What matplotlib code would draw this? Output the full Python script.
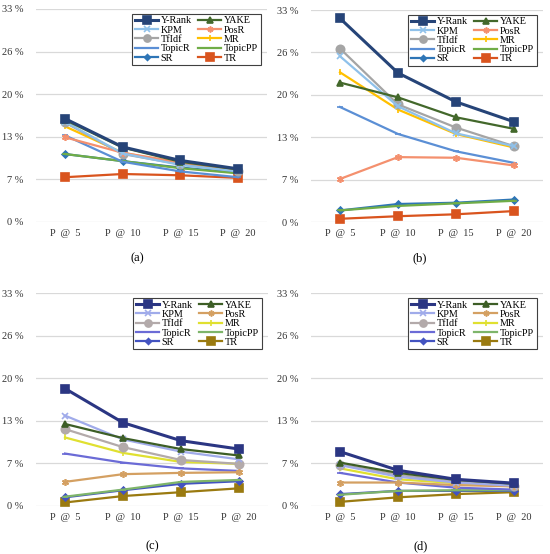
import matplotlib
matplotlib.use('Agg')
import matplotlib.pyplot as plt

# categories and y ticks
CATEGORIES = ['P  @  5', 'P  @  10', 'P  @  15', 'P  @  20']
Y_TICKS = [0, 6.6, 13.2, 19.8, 26.4, 33]
Y_LABELS = ['0 %', '7 %', '13 %', '20 %', '26 %', '33 %']
METHODS = ['Y-Rank', 'YAKE', 'KPM', 'PosR', 'TfIdf', 'MR', 'TopicR', 'TopicPP', 'SR', 'TR']

# values in percent, per panel
PANEL_A = {
    'Y-Rank':  [16.0, 11.6, 9.5, 8.2],
    'YAKE':    [15.8, 11.5, 9.3, 8.1],
    'KPM':     [15.5, 10.6, 8.8, 7.8],
    'PosR':    [13.1, 10.7, 9.2, 8.0],
    'TfIdf':   [15.4, 10.5, 8.9, 7.9],
    'MR':      [14.8, 10.7, 9.0, 7.9],
    'TopicR':  [13.4, 9.3, 7.8, 6.9],
    'TopicPP': [10.5, 9.4, 8.3, 7.5],
    'SR':      [10.5, 9.4, 8.4, 7.6],
    'TR':      [6.9, 7.4, 7.2, 6.8],
}
PANEL_B = {
    'Y-Rank':  [31.7, 23.2, 18.7, 15.6],
    'YAKE':    [21.7, 19.4, 16.3, 14.5],
    'KPM':     [25.8, 18.0, 13.8, 11.8],
    'PosR':    [6.7, 10.1, 10.0, 8.8],
    'TfIdf':   [27.0, 18.3, 14.7, 11.8],
    'MR':      [23.3, 17.5, 13.7, 11.6],
    'TopicR':  [17.9, 13.7, 11.0, 9.2],
    'TopicPP': [1.8, 2.5, 2.9, 3.3],
    'SR':      [1.8, 2.8, 3.0, 3.5],
    'TR':      [0.5, 0.9, 1.2, 1.7],
}
PANEL_C = {
    'Y-Rank':  [18.2, 12.9, 10.1, 8.8],
    'YAKE':    [12.7, 10.5, 8.8, 7.8],
    'KPM':     [14.0, 10.3, 8.4, 7.2],
    'PosR':    [3.7, 4.9, 5.1, 5.2],
    'TfIdf':   [11.9, 9.1, 7.1, 6.5],
    'MR':      [10.6, 8.2, 6.8, 6.5],
    'TopicR':  [8.1, 6.7, 5.8, 5.4],
    'TopicPP': [1.4, 2.5, 3.7, 4.0],
    'SR':      [1.3, 2.4, 3.4, 3.8],
    'TR':      [0.5, 1.5, 2.1, 2.7],
}
PANEL_D = {
    'Y-Rank':  [8.4, 5.5, 4.1, 3.5],
    'YAKE':    [6.7, 5.1, 4.0, 3.4],
    'KPM':     [6.3, 4.5, 3.6, 3.1],
    'PosR':    [3.6, 3.6, 3.2, 3.0],
    'TfIdf':   [6.4, 4.8, 3.7, 3.1],
    'MR':      [5.8, 4.1, 3.5, 3.0],
    'TopicR':  [5.1, 3.6, 2.8, 2.5],
    'TopicPP': [1.7, 2.3, 2.4, 2.4],
    'SR':      [1.8, 2.3, 2.3, 2.3],
    'TR':      [0.6, 1.3, 1.8, 2.1],
}

COLORS_1 = {'Y-Rank': '#264478', 'YAKE': '#43682B', 'KPM': '#8FC1EA', 'PosR': '#F4906E',
            'TfIdf': '#A5A5A5', 'MR': '#FFC000', 'TopicR': '#5B8FD5', 'TopicPP': '#70AD47',
            'SR': '#2E75B6', 'TR': '#D9541E'}
COLORS_2 = {'Y-Rank': '#2B3683', 'YAKE': '#3D5E26', 'KPM': '#A0ABEA', 'PosR': '#D4A062',
            'TfIdf': '#B3AAAA', 'MR': '#E0E030', 'TopicR': '#6B6BD6', 'TopicPP': '#7EB56A',
            'SR': '#4353C0', 'TR': '#9A7A10'}
MARKERS = {'Y-Rank': ('s', 6), 'YAKE': ('^', 4.5), 'KPM': ('x', 4.5), 'PosR': ((6, 2, 0), 5),
           'TfIdf': ('o', 6), 'MR': ('|', 5), 'TopicR': ('_', 5), 'TopicPP': ('_', 5),
           'SR': ('D', 3.5), 'TR': ('s', 6)}

plt.rcParams['font.family'] = ['Liberation Serif', 'DejaVu Serif']

W, H = 550, 554
fig = plt.figure(figsize=(W / 100, H / 100), dpi=100)
fig.patch.set_facecolor('white')


def add_panel(left, right, y0, y33, data, colors, caption, cap_x, cap_y):
    ax = fig.add_axes([left / W, (H - y0) / H, (right - left) / W, (y0 - y33) / H])
    ax.set_xlim(-0.5, 3.5)
    ax.set_ylim(0, 33)
    for s in ax.spines.values():
        s.set_visible(False)
    ax.set_yticks(Y_TICKS)
    ax.set_yticklabels(Y_LABELS)
    ax.set_xticks(range(len(CATEGORIES)))
    ax.set_xticklabels(CATEGORIES)
    ax.tick_params(length=0, labelsize=7.5, colors='#333333', pad=9)
    ax.tick_params(axis='x', pad=5)
    ax.grid(axis='y', color='#d9d9d9', linewidth=0.9)
    ax.set_axisbelow(True)
    handles = {}
    for m in reversed(METHODS):
        mk, ms = MARKERS[m]
        lw = 2.2 if m == 'Y-Rank' else 1.6
        h, = ax.plot(range(4), data[m], color=colors[m], marker=mk, markersize=ms,
                     linewidth=lw, markeredgewidth=1.2, label=m, clip_on=False)
        handles[m] = h
    order = METHODS[0::2] + METHODS[1::2]
    leg = ax.legend([handles[m] for m in order], order, ncol=2, loc='upper right',
                    bbox_to_anchor=(0.972, 0.978), fontsize=7.3, frameon=True,
                    fancybox=False, framealpha=1, edgecolor='#404040',
                    handlelength=2.3, columnspacing=0.6, labelspacing=0.02,
                    handletextpad=0.25, borderpad=0.25, borderaxespad=0,
                    markerscale=0.85)
    leg.get_frame().set_linewidth(0.8)
    fig.text(cap_x / W, 1 - cap_y / H, caption, ha='center', va='center', fontsize=9)
    return ax


add_panel(36, 267, 221.7, 9, PANEL_A, COLORS_1, '(a)', 137, 258)
add_panel(311, 543, 222, 10, PANEL_B, COLORS_1, '(b)', 420, 258)
add_panel(36, 268, 505.7, 293.3, PANEL_C, COLORS_2, '(c)', 152, 546)
add_panel(311, 543, 505.7, 293.3, PANEL_D, COLORS_2, '(d)', 421, 546)

plt.savefig('out.png', dpi=100, facecolor='white')
